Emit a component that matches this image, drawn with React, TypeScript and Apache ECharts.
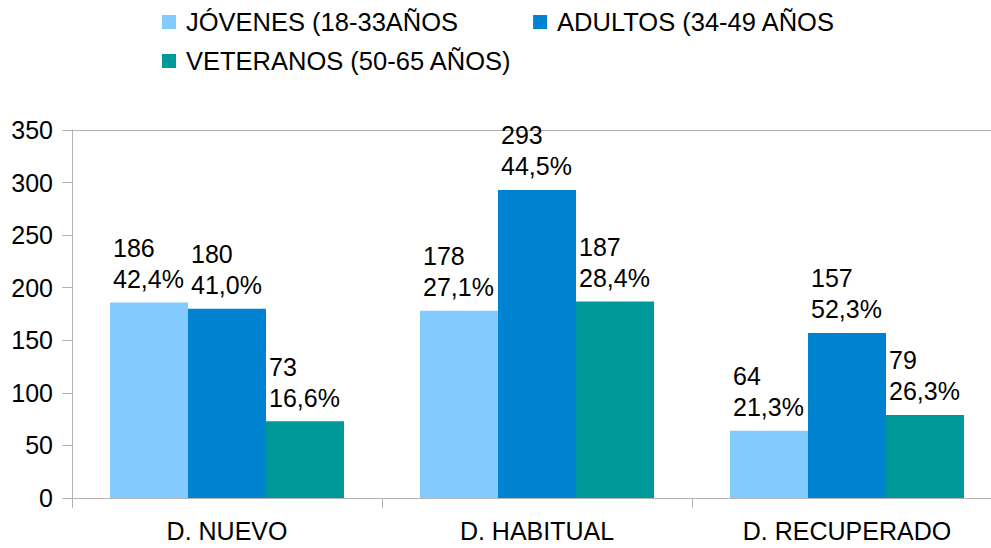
import React, { useEffect, useRef } from "react";
import * as echarts from "echarts";

const categories = ["D. NUEVO", "D. HABITUAL", "D. RECUPERADO"];
const seriesNames = ["JÓVENES (18-33AÑOS", "ADULTOS (34-49 AÑOS", "VETERANOS (50-65 AÑOS)"];
const jovenes = [186, 178, 64];
const adultos = [180, 293, 157];
const veteranos = [73, 187, 79];
const jovenesPct = ["42,4%", "27,1%", "21,3%"];
const adultosPct = ["41,0%", "44,5%", "52,3%"];
const veteranosPct = ["16,6%", "28,4%", "26,3%"];
const colors = ["#83caff", "#0084d1", "#009999"];
const yTicks = [0, 50, 100, 150, 200, 250, 300, 350];

const FONT = "Liberation Sans, Arial, sans-serif";

export default function App() {
  const ref = useRef<HTMLDivElement>(null);
  useEffect(() => {
    if (!ref.current) return;
    const chart = echarts.init(ref.current, undefined, { renderer: "svg" });
    const values = [jovenes, adultos, veteranos];
    const pcts = [jovenesPct, adultosPct, veteranosPct];
    const series = values.map((vals, i) => ({
      name: seriesNames[i],
      type: "bar",
      data: vals,
      barWidth: 78,
      barGap: "0%",
      itemStyle: { color: colors[i] },
      label: {
        show: true,
        position: [3, -8],
        align: "left",
        verticalAlign: "bottom",
        fontSize: 25,
        lineHeight: 31,
        color: "#000",
        fontFamily: FONT,
        formatter: (p: any) => `${p.value}\n${pcts[i][p.dataIndex]}`,
      },
    }));
    const splitColors = yTicks.map((t, i) => (i === yTicks.length - 1 ? "#b3b3b3" : "rgba(0,0,0,0)"));
    chart.setOption({
      animation: false,
      textStyle: { fontFamily: FONT },
      legend: [
        {
          data: seriesNames.slice(0, 2),
          left: 162,
          top: 9,
          padding: 0,
          itemWidth: 14,
          itemHeight: 14,
          itemGap: 75,
          icon: "rect",
          textStyle: { fontSize: 25.5, color: "#000", fontFamily: FONT, padding: [0, 0, 0, 5] },
        },
        {
          data: seriesNames.slice(2),
          left: 162,
          top: 48,
          padding: 0,
          itemWidth: 14,
          itemHeight: 14,
          icon: "rect",
          textStyle: { fontSize: 25.5, color: "#000", fontFamily: FONT, padding: [0, 0, 0, 5] },
        },
      ],
      grid: { left: 72, right: 8, top: 130, bottom: 50, containLabel: false },
      xAxis: {
        type: "category",
        data: categories,
        axisLine: { lineStyle: { color: "#b3b3b3" } },
        axisTick: { show: true, length: 10, lineStyle: { color: "#b3b3b3" } },
        axisLabel: { fontSize: 25, color: "#000", margin: 20, fontFamily: FONT },
      },
      yAxis: {
        type: "value",
        min: 0,
        max: 350,
        interval: 50,
        axisLine: { show: true, lineStyle: { color: "#b3b3b3" } },
        axisTick: { show: true, length: 10, lineStyle: { color: "#b3b3b3" } },
        axisLabel: { fontSize: 25, color: "#000", margin: 19, fontFamily: FONT },
        splitLine: { show: true, lineStyle: { color: splitColors, width: 1 } },
      },
      series,
    });
    return () => chart.dispose();
  }, []);
  return (
    <div style={{ position: "absolute", left: 0, top: 0, width: 991, height: 548, overflow: "hidden", background: "#fff" }}>
      <div ref={ref} style={{ width: 1010, height: 548 }} />
    </div>
  );
}
